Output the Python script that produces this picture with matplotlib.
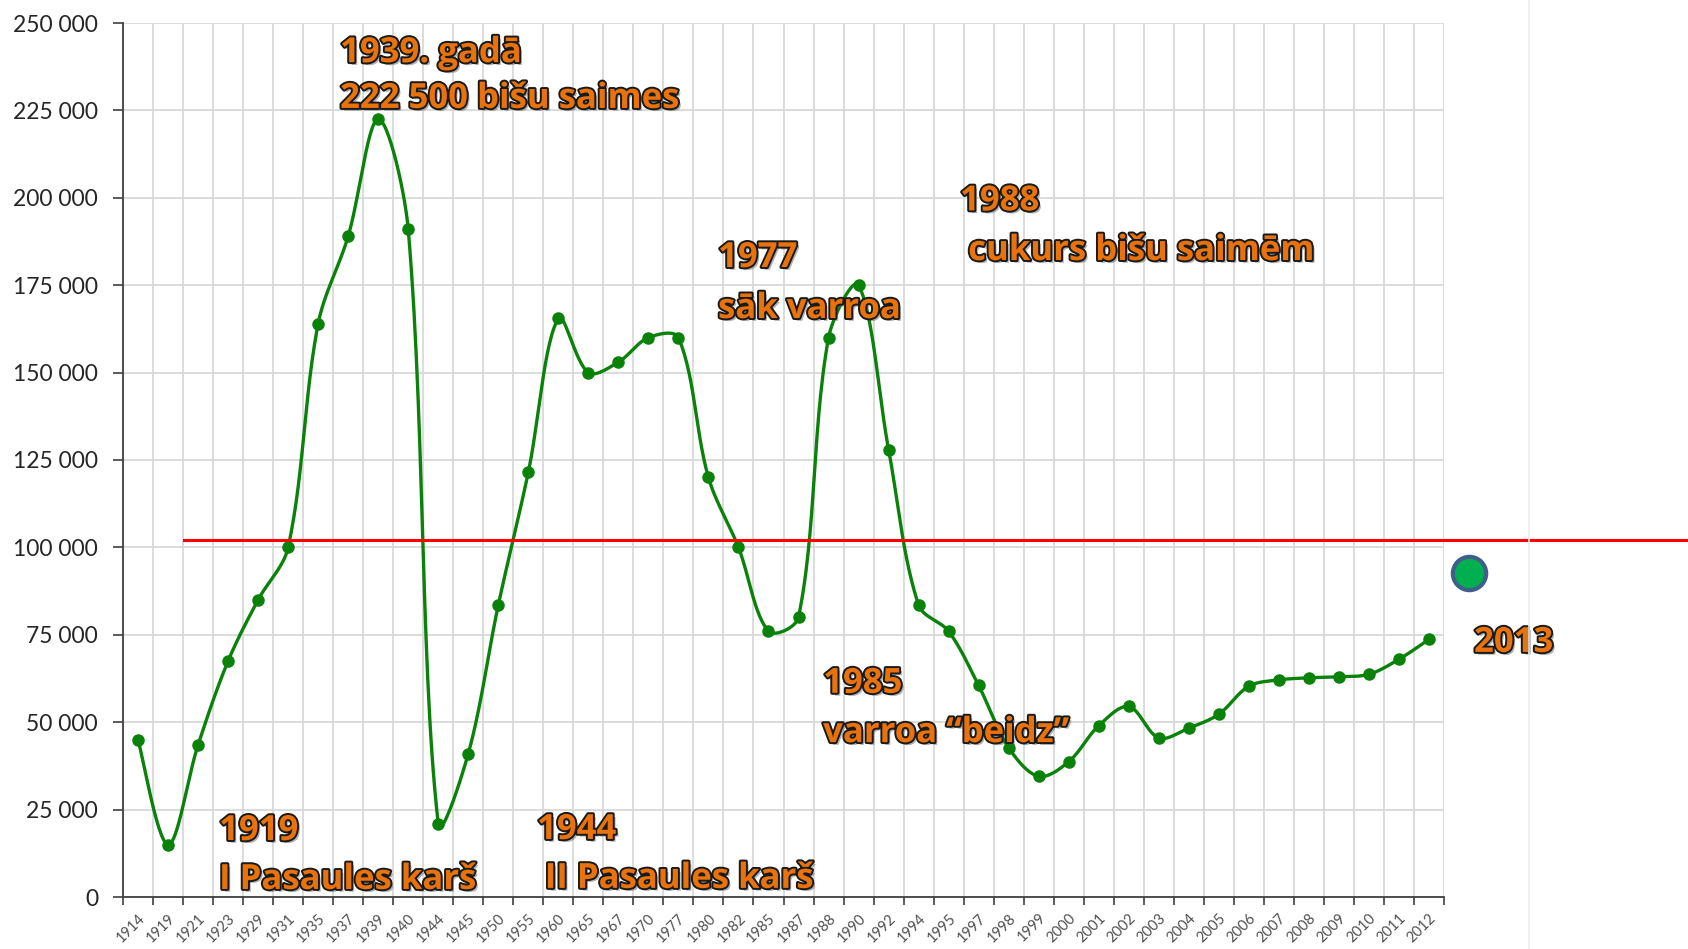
import numpy as np
import matplotlib
matplotlib.use("Agg")
import matplotlib.pyplot as plt
import matplotlib.patheffects as pe
from matplotlib.lines import Line2D
from matplotlib.ticker import FixedLocator, FuncFormatter

# data
years = ['1914', '1919', '1921', '1923', '1929', '1931', '1935', '1937', '1939', '1940',
         '1944', '1945', '1950', '1955', '1960', '1965', '1967', '1970', '1977', '1980',
         '1982', '1985', '1987', '1988', '1990', '1992', '1994', '1995', '1997', '1998',
         '1999', '2000', '2001', '2002', '2003', '2004', '2005', '2006', '2007', '2008',
         '2009', '2010', '2011', '2012']
colonies = [45000, 15000, 43500, 67500, 85000, 100000, 164000, 189000, 222500, 191000,
            21000, 41000, 83500, 121500, 165500, 150000, 153000, 160000, 160000, 120000,
            100000, 76000, 80000, 160000, 175000, 128000, 83500, 76000, 60500, 42700,
            34500, 38700, 49000, 54500, 45500, 48300, 52300, 60300, 62100, 62700,
            63000, 63700, 68000, 73700]
colonies_2013 = 92700
red_level = 102000

# (text, x in category units, baseline value)
notes = [
    ("1939. gadā", 6.73, 238800),
    ("222 500 bišu saimes", 6.73, 225700),
    ("1977", 19.32, 180200),
    ("sāk varroa", 19.32, 165600),
    ("1988", 27.38, 196400),
    ("cukurs bišu saimēm", 27.65, 182200),
    ("1985", 22.82, 58400),
    ("varroa \u201cbeidz\u201d", 22.82, 44300),
    ("1919", 2.70, 16300),
    ("I Pasaules karš", 2.70, 2300),
    ("1944", 13.29, 16600),
    ("II Pasaules karš", 13.55, 2600),
    ("2013", 44.50, 70100),
]

PX_X = 1321 / 44          # pixels per category
PX_Y = 874 / 250000       # pixels per colony


def smooth(x, y, n=30):
    # smoothed line like a spreadsheet chart: catmull-rom tangents, with each
    # handle shortened or stretched by how long its segment is on screen
    P = np.column_stack([np.asarray(x, float) * PX_X, np.asarray(y, float) * PX_Y])
    m = len(P)
    seglen = np.hypot(*(P[1:] - P[:-1]).T)
    t = np.linspace(0, 1, n)[:, None]
    h_out = np.zeros_like(P)
    h_in = np.zeros_like(P)
    for i in range(m):
        a = P[max(i - 1, 0)]
        b = P[min(i + 1, m - 1)]
        tan = (b - a) / 2
        if i == 0 or i == m - 1:
            h_out[i] = tan / 3
            h_in[i] = tan / 3
            continue
        l_in, l_out = seglen[i - 1], seglen[i]
        h_in[i] = tan / 3 * (2 * l_in / (l_in + l_out))
        h_out[i] = tan / 3 * (2 * l_out / (l_in + l_out))
    out = []
    for i in range(m - 1):
        p0, p3 = P[i], P[i + 1]
        p1 = p0 + h_out[i]
        p2 = p3 - h_in[i + 1]
        seg = ((1 - t) ** 3) * p0 + 3 * ((1 - t) ** 2) * t * p1 + 3 * (1 - t) * t ** 2 * p2 + t ** 3 * p3
        out.append(seg)
    out = np.vstack(out)
    return out[:, 0] / PX_X, out[:, 1] / PX_Y


plt.rcParams['font.family'] = ['Lato', 'DejaVu Sans']

fig = plt.figure(figsize=(16.88, 9.49), dpi=100)
fig.patch.set_facecolor('white')
ax = fig.add_axes([123 / 1688, 1 - 897 / 949, (1444 - 123) / 1688, (897 - 23) / 949])

xi = np.arange(len(years))
sx, sy = smooth(xi, colonies)
green = '#0a820a'
ax.plot(sx, sy, color=green, lw=2.4, solid_capstyle='round', zorder=3)
ax.plot(xi, colonies, 'o', color=green, ms=8, zorder=4)

ax.set_xlim(-0.5, len(years) - 0.5)
ax.set_ylim(0, 250000)

# category boundaries carry the gridlines and tick marks, centres carry labels
ax.xaxis.set_major_locator(FixedLocator(np.arange(len(years) + 1) - 0.5))
ax.xaxis.set_major_formatter(FuncFormatter(lambda v, p: ''))
ax.xaxis.set_minor_locator(FixedLocator(xi))
ax.set_xticklabels(years, minor=True, rotation=45, ha='right', rotation_mode='anchor',
                   fontsize=10.5, color='#505050')
ax.tick_params(axis='x', which='minor', length=0, pad=10)
ax.tick_params(axis='x', which='major', length=6, width=1.2, color='#404040')

ax.set_yticks(np.arange(0, 250001, 25000))
ax.yaxis.set_major_formatter(FuncFormatter(lambda v, p: f"{v:,.0f}".replace(",", " ")))
ax.tick_params(axis='y', length=7, width=1.2, color='#404040', pad=11,
               labelsize=16.5, labelcolor='#262626')

ax.grid(True, which='major', color='#d9d9d9', lw=1.3)
ax.set_axisbelow(True)
for s in ['top', 'right']:
    ax.spines[s].set_visible(False)
for s in ['left', 'bottom']:
    ax.spines[s].set_color('#404040')
    ax.spines[s].set_linewidth(1.3)

# red reference line, runs out to the slide edge
ax.axhline(red_level, xmin=(184 - 123) / 1321, xmax=(1688 - 123) / 1321,
           color='#ff0000', lw=2.2, clip_on=False, zorder=5)

# 2013 point next to the plot
ax.plot([len(years) + 0.34], [colonies_2013], 'o', ms=24, mfc='#00b050',
        mec='#3e5f8a', mew=3, clip_on=False, zorder=6)

fx = [pe.SimplePatchShadow(offset=(2, -2), shadow_rgbFace='#555555', alpha=0.45),
      pe.Stroke(linewidth=2.8, foreground='#1a1a1a'), pe.Normal()]
for txt, x, y in notes:
    ax.text(x, y, txt, fontsize=25, fontweight='bold', color='#e8720c',
            family=['Open Sans', 'DejaVu Sans'],
            ha='left', va='baseline', path_effects=fx, zorder=7, clip_on=False)

fig.add_artist(Line2D([1529 / 1688] * 2, [0, 1], color='#ececec', lw=1.2))

fig.savefig('out.png', dpi=100)
